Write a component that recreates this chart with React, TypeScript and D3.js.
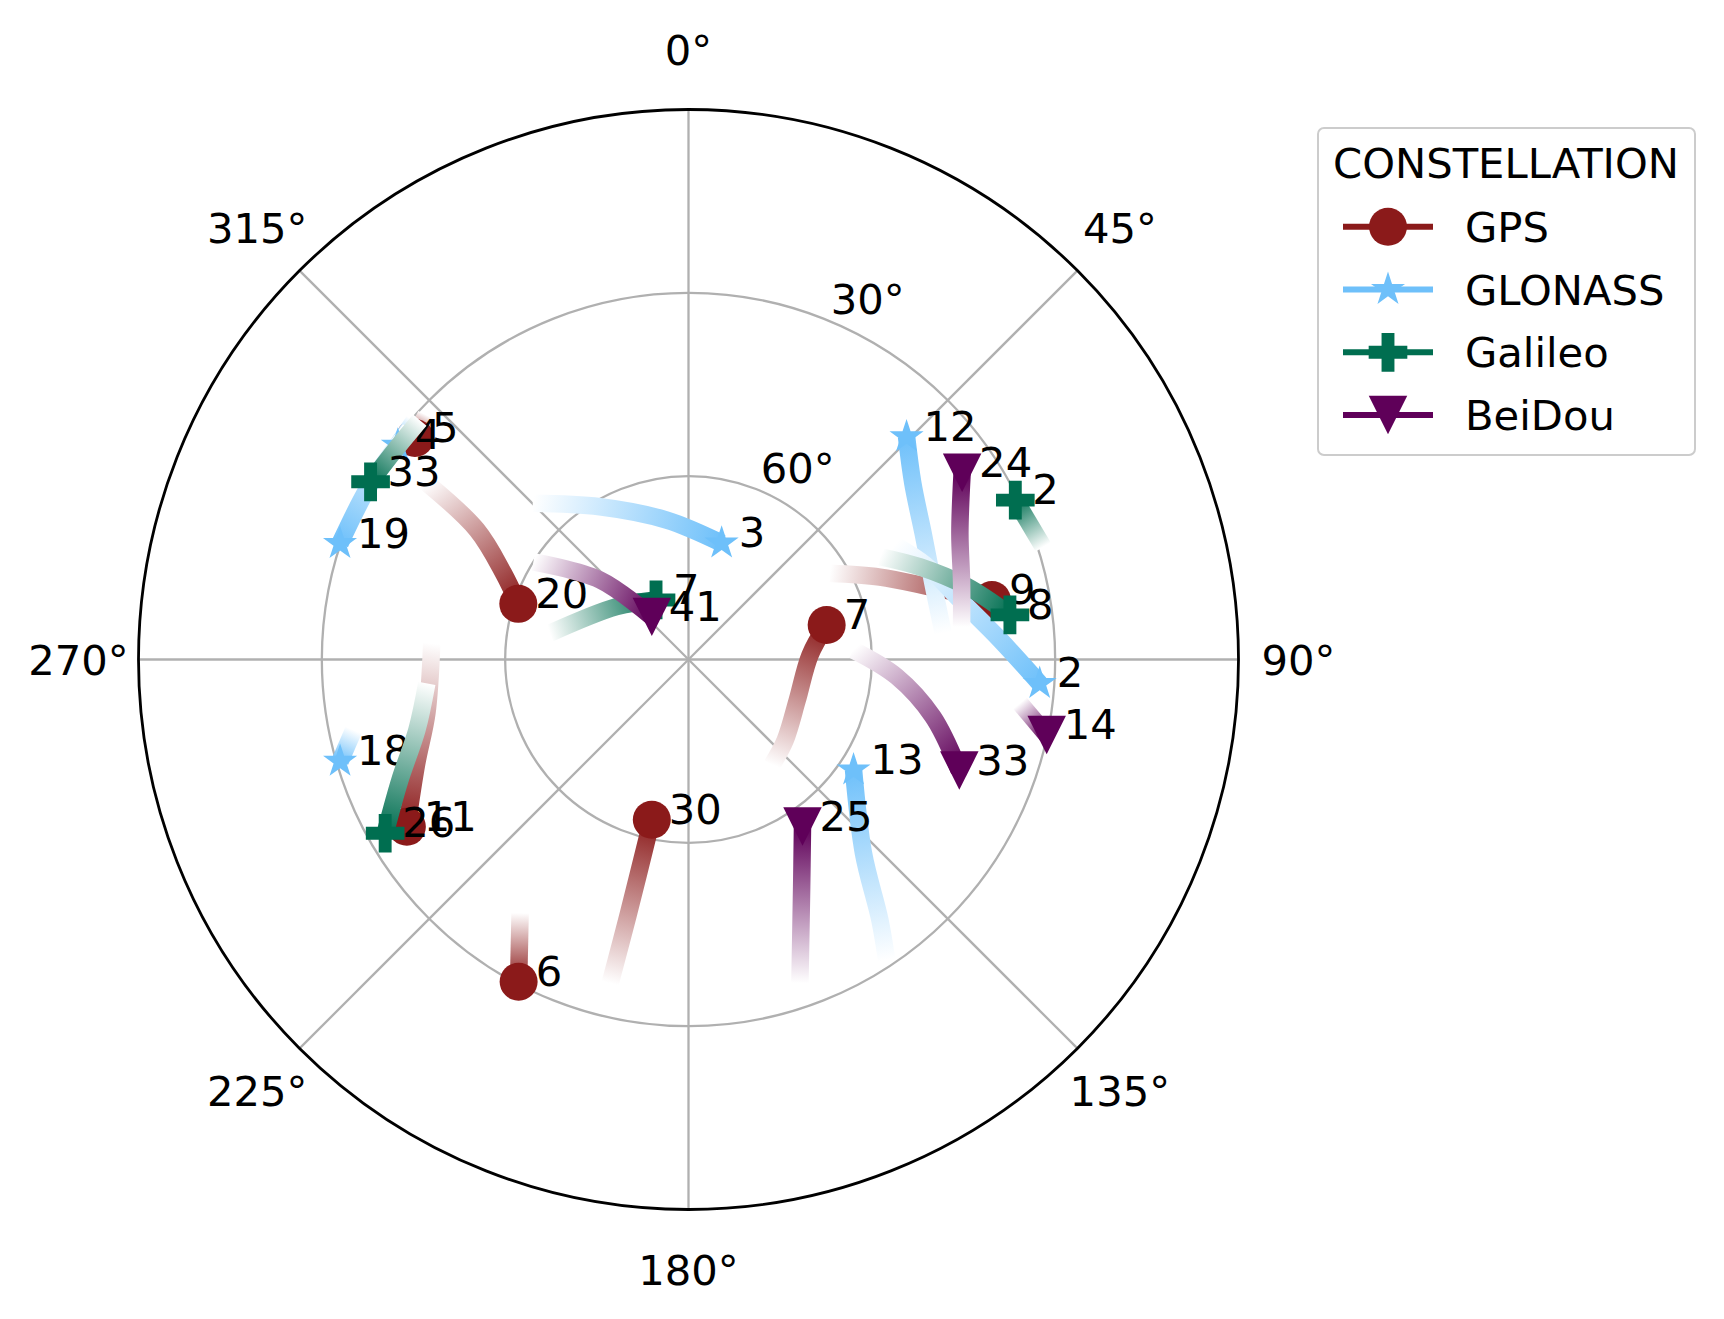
import * as d3 from 'd3';

// satellite tracks: [azimuth deg, elevation deg], oldest first, last point = current position
const constellations = ['GPS', 'GLONASS', 'Galileo', 'BeiDou'];
const colors = ['#8b1a1a', '#6ec0fa', '#006e50', '#5f0059'];

const gpsPrn = ['20', '5', '7', '9', '30', '6', '11'];
const gpsTracks: [number, number][][] = [
  [[304, 38.4], [301.5, 49.4], [295, 56.6], [288.1, 60.7]],
  [[313, 31.3], [309, 32.4]],
  [[141.6, 68.0], [129.8, 69.4], [110.5, 71.0], [87.9, 70.1], [76.0, 66.7]],
  [[58.6, 62.9], [66.7, 55.9], [73.3, 48.7], [78.9, 39.4]],
  [[193.6, 35.5], [193.3, 47.0], [192.9, 63.1]],
  [[213.6, 40.2], [207.8, 30.4]],
  [[273.6, 47.9], [258.4, 46.3], [249.1, 42.4], [239.3, 36.4]],
];

const gloPrn = ['4', '19', '3', '12', '2', '13', '18'];
const gloTracks: [number, number][][] = [
  [[311, 30.5], [306.4, 30.9]],
  [[309.5, 30.9], [304.4, 30.8], [297.8, 30.5], [288.4, 29.9]],
  [[315.1, 53.9], [329.9, 61.1], [351.1, 66.9], [15.9, 70.2]],
  [[84.1, 48.1], [72.6, 48.1], [61.7, 46.4], [51.8, 43.3], [44.4, 39.0]],
  [[61.0, 51.4], [68.2, 48.3], [77.6, 44.5], [86.4, 38.9], [93.9, 32.4]],
  [[146.6, 31.1], [143.7, 37.1], [137.9, 47.3], [123.8, 57.5]],
  [[258.1, 34.0], [253.7, 30.6]],
];

const galPrn = ['33', '7', '2', '8', '26'];
const galTracks: [number, number][][] = [
  [[311.7, 31.1], [305.5, 31.0], [299.2, 30.4]],
  [[280.7, 66.9], [306.3, 75.4], [331.4, 78.9]],
  [[72.4, 29.1], [64.0, 30.5]],
  [[61.8, 54.4], [68.2, 49.2], [75.3, 42.9], [82.1, 36.9]],
  [[264.8, 47.0], [255.5, 44.1], [247.3, 38.8], [240.2, 32.8]],
];

const bdsPrn = ['41', '24', '33', '14', '25'];
const bdsTracks: [number, number][][] = [
  [[302.2, 60.0], [311.9, 70.5], [319.3, 80.8]],
  [[83.2, 45.0], [74.4, 43.6], [65.0, 41.0], [55.7, 35.8]],
  [[86.7, 63.0], [94.7, 55.8], [103.2, 48.9], [112.3, 42.1]],
  [[97.5, 35.3], [101.9, 30.1]],
  [[161.0, 34.0], [153.5, 48.5], [145.7, 56.9]],
];

const azTicks = [0, 45, 90, 135, 180, 225, 270, 315];
const elTicks = [30, 60];

const W = 1724;
const H = 1319;
const cx = 688.5;
const cy = 659.5;
const R = 550;
const FONT = 'DejaVu Sans';
const FS = 41.7;

const triangleDown = {
  draw(ctx: any, size: number) {
    const s = Math.sqrt(size) / 2;
    ctx.moveTo(-s, -s);
    ctx.lineTo(s, -s);
    ctx.lineTo(0, s);
    ctx.closePath();
  },
};

const symbols = [
  d3.symbol().type(d3.symbolCircle).size(Math.PI * 19 * 19),
  d3.symbol().type(d3.symbolStar).size(360),
  d3.symbol().type(d3.symbolCross).size(830),
  d3.symbol().type(triangleDown as any).size(1480),
];

const rScale = d3.scaleLinear().domain([90, 0]).range([0, R]);
const rad = (deg: number) => (deg * Math.PI) / 180;
const project = (az: number, el: number): [number, number] => [
  cx + rScale(el) * Math.sin(rad(az)),
  cy - rScale(el) * Math.cos(rad(az)),
];

const trailLine = d3
  .line<[number, number]>()
  .x((d) => project(d[0], d[1])[0])
  .y((d) => project(d[0], d[1])[1])
  .curve(d3.curveCatmullRom.alpha(0.5));

const groups = [
  { prn: gpsPrn, tracks: gpsTracks },
  { prn: gloPrn, tracks: gloTracks },
  { prn: galPrn, tracks: galTracks },
  { prn: bdsPrn, tracks: bdsTracks },
];

export default function App() {
  const legendY0 = 226.7;
  const legendStep = 62.8;

  return (
    <svg
      width={W}
      height={H}
      viewBox={`0 0 ${W} ${H}`}
      style={{ position: 'absolute', left: 0, top: 0, background: '#fff' }}
      fontFamily={FONT}
    >
      <defs>
        {groups.map((g, gi) =>
          g.tracks.map((t, ti) => {
            const [x1, y1] = project(t[0][0], t[0][1]);
            const last = t[t.length - 1];
            const [x2, y2] = project(last[0], last[1]);
            return (
              <linearGradient
                key={`g${gi}-${ti}`}
                id={`trail-${gi}-${ti}`}
                gradientUnits="userSpaceOnUse"
                x1={x1}
                y1={y1}
                x2={x2}
                y2={y2}
              >
                <stop offset="0%" stopColor="#ffffff" />
                <stop offset="100%" stopColor={colors[gi]} />
              </linearGradient>
            );
          })
        )}
      </defs>

      <rect width={W} height={H} fill="#fff" />

      {/* grid */}
      <g stroke="#b0b0b0" strokeWidth={2.3} fill="none">
        {elTicks.map((e) => (
          <circle key={e} cx={cx} cy={cy} r={rScale(e)} />
        ))}
        {azTicks.map((a) => {
          const [x, y] = project(a, 0);
          return <line key={a} x1={cx} y1={cy} x2={x} y2={y} />;
        })}
      </g>

      {/* azimuth labels */}
      {azTicks.map((a) => {
        const x = cx + (R + 60) * Math.sin(rad(a));
        const y = cy - (R + 60) * Math.cos(rad(a));
        return (
          <text key={a} x={x} y={y + 15} textAnchor="middle" fontSize={FS}>
            {`${a}°`}
          </text>
        );
      })}

      {/* elevation labels */}
      {elTicks.map((e) => {
        const [x, y] = project(22.5, e);
        return (
          <text key={e} x={x + 2} y={y - 7} fontSize={FS}>
            {`${e}°`}
          </text>
        );
      })}

      {/* tracks, markers, labels per constellation */}
      {groups.map((g, gi) => (
        <g key={gi}>
          {g.tracks.map((t, ti) => (
            <path
              key={`t${ti}`}
              d={trailLine(t) || ''}
              fill="none"
              stroke={`url(#trail-${gi}-${ti})`}
              strokeWidth={17.5}
              strokeLinecap="butt"
            />
          ))}
          {g.tracks.map((t, ti) => {
            const last = t[t.length - 1];
            const [x, y] = project(last[0], last[1]);
            return (
              <path
                key={`m${ti}`}
                d={symbols[gi]() || ''}
                transform={`translate(${x},${y})`}
                fill={colors[gi]}
              />
            );
          })}
          {g.tracks.map((t, ti) => {
            const last = t[t.length - 1];
            const [x, y] = project(last[0], last[1]);
            return (
              <text key={`l${ti}`} x={x + 17} y={y + 4} fontSize={FS}>
                {g.prn[ti]}
              </text>
            );
          })}
        </g>
      ))}

      {/* outer spine */}
      <circle cx={cx} cy={cy} r={R} fill="none" stroke="#000" strokeWidth={2.8} />

      {/* legend */}
      <g>
        <rect
          x={1318}
          y={128}
          width={377}
          height={327}
          rx={6}
          fill="#fff"
          fillOpacity={0.8}
          stroke="#cccccc"
          strokeWidth={2}
        />
        <text x={1506} y={178} textAnchor="middle" fontSize={FS}>
          CONSTELLATION
        </text>
        {constellations.map((c, i) => {
          const y = legendY0 + i * legendStep;
          return (
            <g key={c}>
              <line x1={1343} x2={1433} y1={y} y2={y} stroke={colors[i]} strokeWidth={6} />
              <path d={symbols[i]() || ''} transform={`translate(1388,${y})`} fill={colors[i]} />
              <text x={1465} y={y + 15} fontSize={FS}>
                {c}
              </text>
            </g>
          );
        })}
      </g>
    </svg>
  );
}
